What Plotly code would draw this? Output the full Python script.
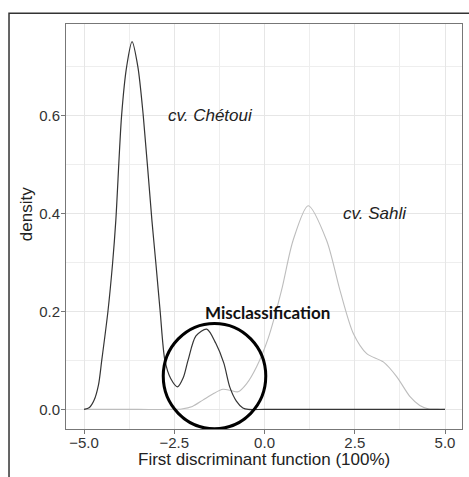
import plotly.graph_objects as go

# Chétoui density (dark curve)
chetoui_x = [-5.0, -4.85, -4.72, -4.6, -4.51, -4.34, -4.21, -4.12, -3.96, -3.82, -3.67,
             -3.51, -3.36, -3.12, -3.01, -2.89, -2.76, -2.6, -2.41, -2.25, -2.12, -1.9,
             -1.6, -1.35, -1.13, -0.96, -0.78, -0.6, -0.45, 0.0, 2.5, 5.0]
chetoui_y = [0.0, 0.004, 0.019, 0.05, 0.10, 0.199, 0.298, 0.386, 0.60, 0.70, 0.751,
             0.70, 0.60, 0.386, 0.298, 0.199, 0.10, 0.063, 0.046, 0.065, 0.10, 0.15,
             0.164, 0.135, 0.095, 0.045, 0.017, 0.003, 0.0, 0.0, 0.0, 0.0]

# Sahli density (light curve)
sahli_x = [-5.0, -3.5, -2.6, -2.3, -2.0, -1.71, -1.4, -1.15, -0.95, -0.73, -0.5, -0.22,
           0.1, 0.47, 0.79, 1.21, 1.72, 2.09, 2.46, 2.83, 3.29, 3.66, 4.03, 4.3, 4.55,
           4.8, 5.0]
sahli_y = [0.0, 0.0, 0.0, 0.001, 0.006, 0.019, 0.033, 0.041, 0.039, 0.036, 0.052, 0.087,
           0.145, 0.243, 0.345, 0.416, 0.345, 0.243, 0.155, 0.114, 0.097, 0.067, 0.026,
           0.008, 0.001, 0.0, 0.0]

x_ticks = [-5.0, -2.5, 0.0, 2.5, 5.0]
y_ticks = [0.0, 0.2, 0.4, 0.6]

label_chetoui = "cv. Chétoui"
label_sahli = "cv. Sahli"
label_mis = "Misclassification"
x_title = "First discriminant function (100%)"
y_title = "density"

FONT = "Liberation Sans, Arial, sans-serif"

fig = go.Figure()
fig.add_trace(go.Scatter(x=sahli_x, y=sahli_y, mode="lines",
                         line=dict(color="#bdbdbd", width=1.1, shape="spline", smoothing=0.8),
                         showlegend=False, hoverinfo="skip"))
fig.add_trace(go.Scatter(x=chetoui_x, y=chetoui_y, mode="lines",
                         line=dict(color="#353535", width=1.2, shape="spline", smoothing=0.8),
                         showlegend=False, hoverinfo="skip"))

# text labels
fig.add_annotation(x=-2.72, y=0.6, text="<i>" + label_chetoui + "</i>", showarrow=False,
                   xanchor="left", yanchor="middle",
                   font=dict(family=FONT, size=17, color="#222"))
fig.add_annotation(x=2.11, y=0.4, text="<i>" + label_sahli + "</i>", showarrow=False,
                   xanchor="left", yanchor="middle",
                   font=dict(family=FONT, size=17, color="#222"))
fig.add_annotation(x=0.08, y=0.198, text="<b>" + label_mis + "</b>", showarrow=False,
                   xanchor="center", yanchor="middle",
                   font=dict(family="Lato, Open Sans, sans-serif", size=17, color="#111"))

# circle around misclassification
fig.add_shape(type="circle", xref="x", yref="y",
              x0=-1.386 - 1.42, x1=-1.386 + 1.42, y0=0.068 - 0.1076, y1=0.068 + 0.1076,
              line=dict(color="#000", width=3), layer="above")

# outer frame (extends past the right and bottom edges)
fig.add_shape(type="rect", xref="paper", yref="paper",
              x0=-0.1439, x1=1.06, y0=-0.16, y1=1.0264,
              line=dict(color="#333", width=1.5), fillcolor="rgba(0,0,0,0)")

# axis titles as annotations
fig.add_annotation(xref="paper", yref="paper", x=0.5, y=-0.0765,
                   text=x_title, showarrow=False,
                   xanchor="center", yanchor="middle",
                   font=dict(family=FONT, size=17, color="#222"))
fig.add_annotation(xref="paper", yref="paper", x=-0.099, y=0.53,
                   text=y_title, showarrow=False, textangle=-90,
                   xanchor="center", yanchor="middle",
                   font=dict(family=FONT, size=17, color="#222"))

axis_common = dict(showline=True, linecolor="#777", linewidth=1, mirror=True,
                   ticks="outside", ticklen=4, tickcolor="#777", tickwidth=1,
                   showgrid=True, gridcolor="#e6e6e6", gridwidth=1, zeroline=False,
                   tickfont=dict(family=FONT, size=15, color="#333"))

fig.update_xaxes(range=[-5.5, 5.47], tickvals=x_ticks, tickformat=".1f",
                 ticklabelstandoff=-4,
                 minor=dict(dtick=1.25, tick0=0, showgrid=True, gridcolor="#eeeeee",
                            gridwidth=1, ticks=""),
                 **axis_common)
fig.update_yaxes(range=[-0.04, 0.787], tickvals=y_ticks, tickformat=".1f",
                 ticklabelstandoff=-2,
                 minor=dict(dtick=0.1, tick0=0, showgrid=True, gridcolor="#eeeeee",
                            gridwidth=1, ticks=""),
                 **axis_common)

fig.update_layout(width=469, height=477, margin=dict(l=66, r=7, t=24, b=48),
                  plot_bgcolor="white", paper_bgcolor="white", showlegend=False)

# remove the browser's default 8px body margin so the figure fills the window
fig.write_html("out.html", config={"displayModeBar": False},
               post_script="document.body.style.margin='0';document.body.style.overflow='hidden';")
